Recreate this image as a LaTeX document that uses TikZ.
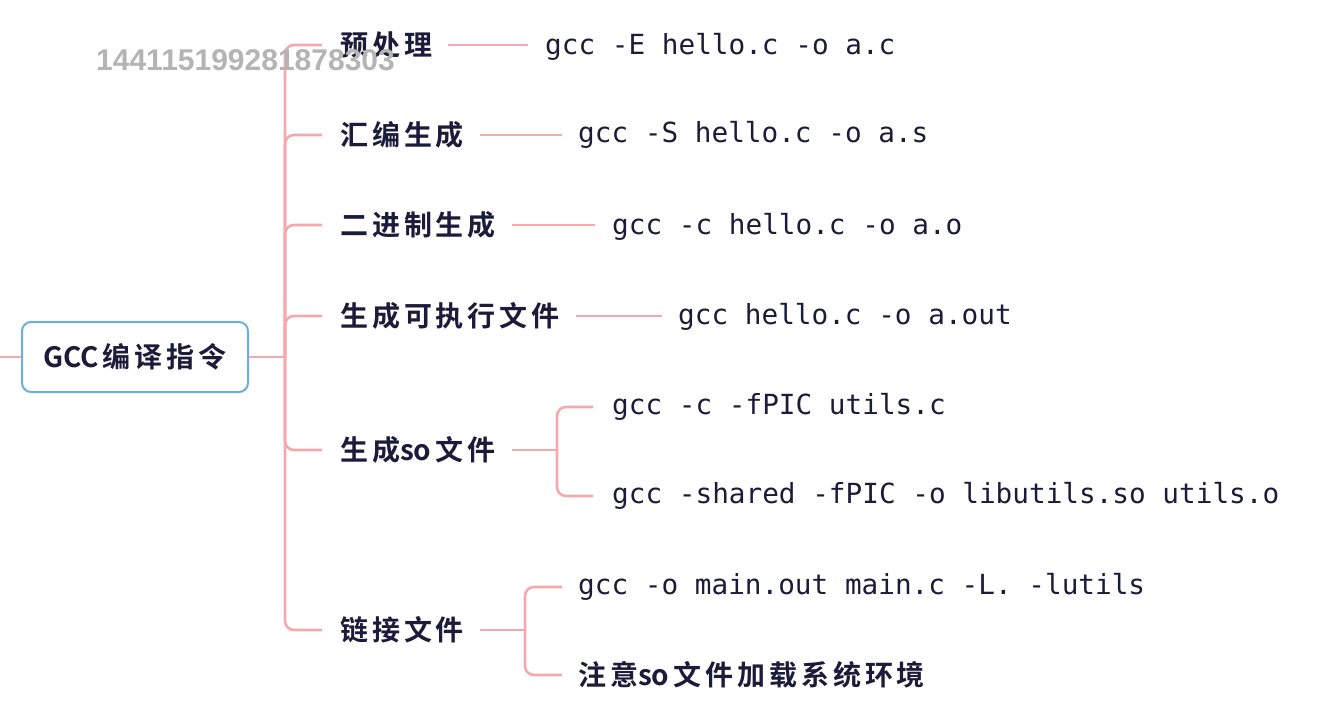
\documentclass[tikz,border=0pt]{standalone}
\usepackage{fontspec}
\newfontfamily\cjk{Noto Sans CJK SC}[BoldFont={Noto Sans CJK SC Bold},LetterSpace=14]
\newfontfamily\cjkn{Noto Sans CJK SC}[BoldFont={Noto Sans CJK SC Bold}]
\newfontfamily\mono{DejaVu Sans Mono}
\newfontfamily\wm{Liberation Sans}
\newcommand{\lat}[1]{{\cjkn\bfseries #1}\hspace{4pt}}
\definecolor{pinkline}{HTML}{F5A9AA}
\definecolor{boxblue}{HTML}{6AAEE6}
\definecolor{ink}{HTML}{1B1B3A}
\definecolor{wmgray}{HTML}{B4B4B4}
\begin{document}
\begin{tikzpicture}[x=1pt,y=-1pt,
  conn/.style={draw=pinkline,line width=2.6pt,rounded corners=9pt},
  lbl/.style={anchor=west,inner sep=0pt,text=ink,font=\cjk\bfseries\fontsize{28}{30}\selectfont},
  cmd/.style={anchor=west,inner sep=0pt,text=ink,font=\mono\fontsize{27.7}{30}\selectfont},
  rootbox/.style={draw=boxblue,line width=2pt,rounded corners=9pt,fill=white,minimum width=226pt,minimum height=70pt,text=ink,font=\cjk\bfseries\fontsize{28}{30}\selectfont}]
\useasboundingbox (0,0) rectangle (1324,722);
% root
\coordinate (lstub) at (0,357);
\node[rootbox] (root) at (135,357) {\lat{GCC}编译指令};
\draw[conn] (lstub) -- (root.west);
\coordinate (j) at (285,357);
\draw[conn] (root.east) -- (j);
% level 1 labels
\node[lbl] (l1) at (340,45) {预处理};
\node[lbl] (l2) at (340,135) {汇编生成};
\node[lbl] (l3) at (340,225) {二进制生成};
\node[lbl] (l4) at (340,316) {生成可执行文件};
\node[lbl] (l5) at (340,450) {生成\lat{so}文件};
\node[lbl] (l6) at (340,630) {链接文件};
\foreach \n in {l1,l2,l3,l4,l5,l6}{
  \draw[conn] (j) |- ([xshift=-18pt]\n.west);
}
% commands
\node[cmd] (c1) at (545,47) {gcc -E hello.c -o a.c};
\node[cmd] (c2) at (578,135) {gcc -S hello.c -o a.s};
\node[cmd] (c3) at (612,227) {gcc -c hello.c -o a.o};
\node[cmd] (c4) at (678,317) {gcc hello.c -o a.out};
\node[cmd] (c51) at (612,407) {gcc -c -fPIC utils.c};
\node[cmd] (c52) at (612,496) {gcc -shared -fPIC -o libutils.so utils.o};
\node[cmd] (c61) at (578,587) {gcc -o main.out main.c -L. -lutils};
\node[lbl] (c62) at (578,675) {注意\lat{so}文件加载系统环境};
\draw[conn] ([xshift=16pt]l1.east) -- ([xshift=-17pt]c1.west |- l1.east);
\draw[conn] ([xshift=16pt]l2.east) -- ([xshift=-16pt]c2.west |- l2.east);
\draw[conn] ([xshift=16pt]l3.east) -- ([xshift=-17pt]c3.west |- l3.east);
\draw[conn] ([xshift=16pt]l4.east) -- ([xshift=-16pt]c4.west |- l4.east);
\coordinate (j5) at (557,450);
\draw[conn] ([xshift=16pt]l5.east) -- (j5);
\draw[conn] (j5) |- ([xshift=-19pt]c51.west);
\draw[conn] (j5) |- ([xshift=-19pt]c52.west);
\coordinate (j6) at (525,630);
\draw[conn] ([xshift=16pt]l6.east) -- (j6);
\draw[conn] (j6) |- ([xshift=-16pt]c61.west);
\draw[conn] (j6) |- ([xshift=-16pt]c62.west);
% watermark
\node[anchor=west,inner sep=0pt,text=wmgray,font=\wm\bfseries\fontsize{30}{32}\selectfont] (wm) at (96,60) {144115199281878303};
\end{tikzpicture}
\end{document}
